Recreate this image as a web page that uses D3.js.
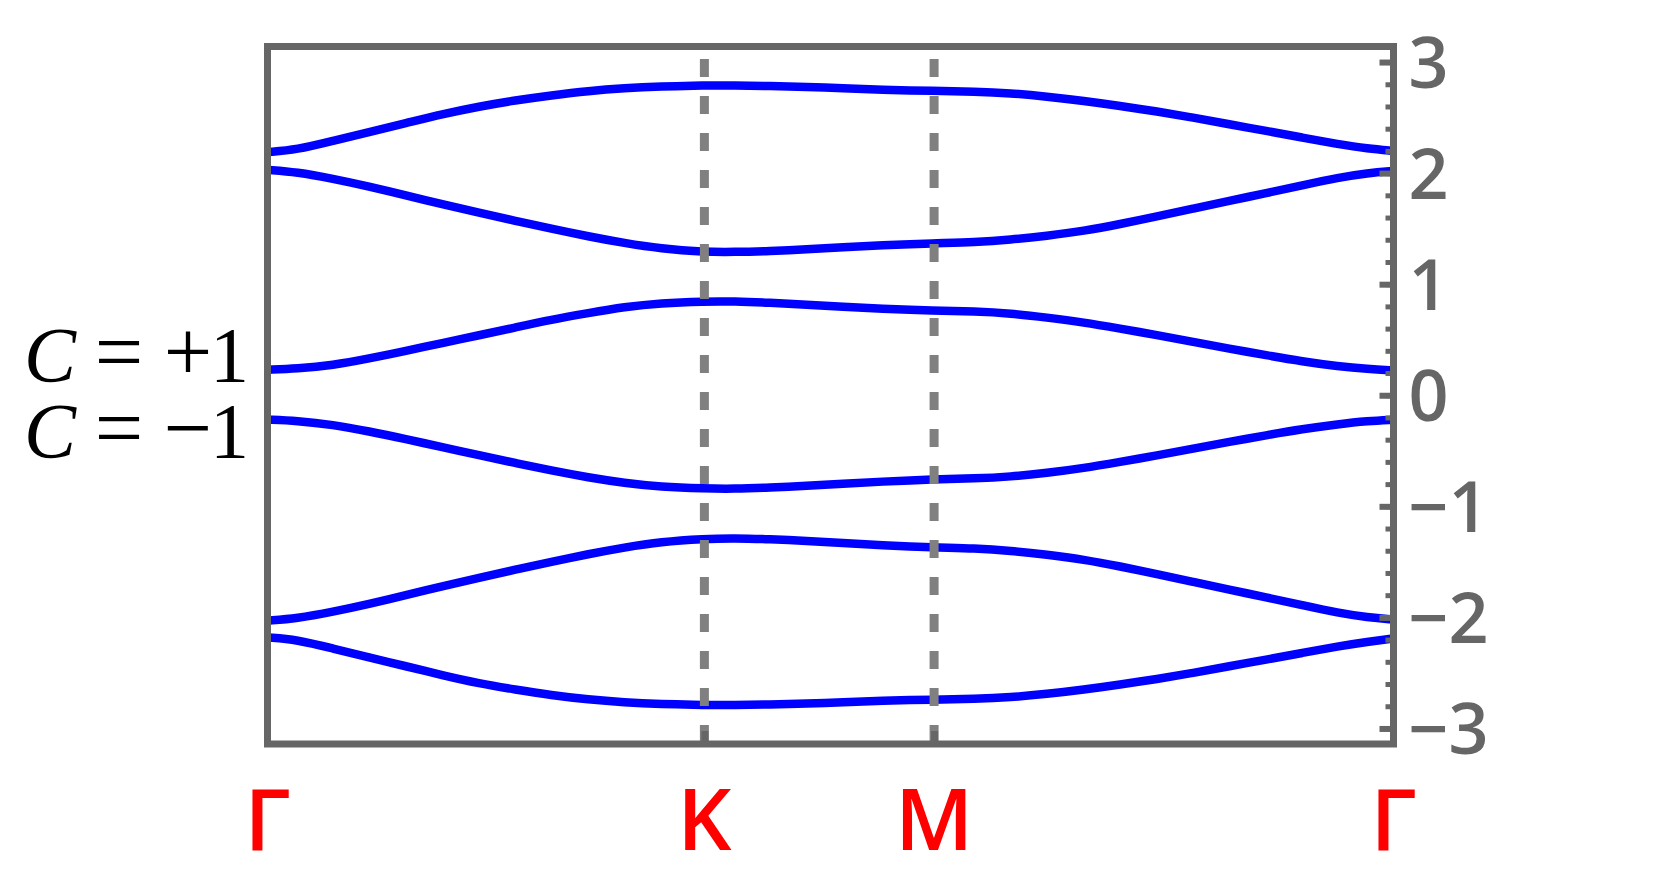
<!DOCTYPE html>
<html>
<head>
<meta charset="utf-8">
<script src="https://cdn.jsdelivr.net/npm/d3@7"></script>
<style>
  body { margin: 0; background: #fff; }
</style>
</head>
<body>
<script>
"use strict";

// k-path positions (0 = Γ, 1 = Γ)
const kpath = [0, 0.026, 0.058, 0.090, 0.123, 0.155, 0.188, 0.220, 0.252, 0.285, 0.317, 0.349,
    0.388, 0.414, 0.446, 0.479, 0.511, 0.544, 0.592, 0.628, 0.660, 0.692, 0.725, 0.757,
    0.790, 0.822, 0.854, 0.887, 0.919, 0.951, 0.977, 1.0]

const band1 = [2.19, 2.21, 2.29, 2.37, 2.45, 2.53, 2.60, 2.655, 2.70, 2.74, 2.765, 2.78,
    2.79, 2.79, 2.785, 2.775, 2.765, 2.75, 2.74, 2.735, 2.72, 2.69, 2.65, 2.605,
    2.555, 2.50, 2.44, 2.38, 2.32, 2.26, 2.22, 2.20]
const band2 = [2.03, 2.01, 1.95, 1.88, 1.80, 1.72, 1.645, 1.57, 1.50, 1.43, 1.37, 1.32,
    1.29, 1.29, 1.298, 1.314, 1.332, 1.35, 1.368, 1.377, 1.40, 1.435, 1.48, 1.54,
    1.61, 1.68, 1.75, 1.82, 1.89, 1.96, 2.00, 2.02]
const band3 = [0.23, 0.24, 0.27, 0.33, 0.40, 0.47, 0.54, 0.61, 0.68, 0.74, 0.795, 0.83,
    0.845, 0.845, 0.833, 0.815, 0.797, 0.779, 0.761, 0.755, 0.737, 0.70, 0.656, 0.60,
    0.542, 0.48, 0.42, 0.36, 0.305, 0.26, 0.236, 0.224]
const band4 = [-0.22, -0.23, -0.265, -0.325, -0.395, -0.467, -0.54, -0.61, -0.678, -0.74, -0.79, -0.825,
    -0.84, -0.843, -0.832, -0.815, -0.797, -0.778, -0.757, -0.75, -0.733, -0.70, -0.656, -0.60,
    -0.542, -0.48, -0.42, -0.36, -0.305, -0.26, -0.232, -0.22]
const band5 = [-2.03, -2.01, -1.95, -1.88, -1.80, -1.72, -1.645, -1.57, -1.50, -1.43, -1.37, -1.32,
    -1.293, -1.287, -1.296, -1.312, -1.33, -1.35, -1.37, -1.378, -1.40, -1.435, -1.48, -1.54,
    -1.61, -1.68, -1.75, -1.82, -1.89, -1.96, -2.00, -2.02]
const band6 = [-2.18, -2.20, -2.28, -2.36, -2.44, -2.52, -2.595, -2.65, -2.70, -2.74, -2.765, -2.78,
    -2.79, -2.79, -2.785, -2.775, -2.765, -2.75, -2.74, -2.735, -2.72, -2.69, -2.65, -2.605,
    -2.555, -2.50, -2.44, -2.38, -2.32, -2.26, -2.22, -2.19]

// high symmetry points
const symLabels = ["Γ", "K", "M", "Γ"]
const symPositions = [0, 0.388, 0.592, 1]

// energy ticks
const majorTicks = [-3, -2, -1, 0, 1, 2, 3]
const minorTicks = d3.range(-30, 31, 2).map((d) => d / 10)

const chernLabels = [["C", "=", "+", "1"], ["C", "=", "−", "1"]]

;(function(){
    const measurements = {
        width: 1661,
        height: 873,
        left: 267.5,
        right: 1393.5,
        top: 46.5,
        bottom: 744
    }

    const svg = d3.select("body").append("svg")
        .attr("width", measurements.width)
        .attr("height", measurements.height)

    const scaleX = d3.scaleLinear()
        .domain([0, 1])
        .range([measurements.left, measurements.right])
    const scaleY = d3.scaleLinear()
        .domain([-3.14, 3.14])
        .range([measurements.bottom, measurements.top])

    drawBands(svg, scaleX, scaleY)
    drawGuides(svg, scaleX, scaleY)
    drawAxes(svg, scaleX, scaleY)
    drawChern(svg, scaleY)

    function drawBands(svg, scaleX, scaleY) {
        const bands = [band1, band2, band3, band4, band5, band6]
        const line = d3.line()
            .x((d, i) => scaleX(kpath[i]))
            .y((d) => scaleY(d))
            .curve(d3.curveBasis)

        svg.append("g").selectAll("path")
            .data(bands)
            .enter()
            .append("path")
                .attr("d", line)
                .attr("fill", "none")
                .attr("stroke", "#0000ff")
                .attr("stroke-width", 8.5)
    }

    function drawGuides(svg, scaleX, scaleY) {
        // dashed verticals at K and M, drawn over the bands
        svg.append("g").selectAll("line")
            .data(symPositions.slice(1, 3))
            .enter()
            .append("line")
                .attr("x1", (d) => scaleX(d))
                .attr("x2", (d) => scaleX(d))
                .attr("y1", measurements.top)
                .attr("y2", measurements.bottom)
                .attr("stroke", "#808080")
                .attr("stroke-width", 9)
                .attr("stroke-dasharray", "18,19")
                .attr("stroke-dashoffset", 24.5)
    }

    function drawAxes(svg, scaleX, scaleY) {
        const right = measurements.right

        // minor ticks (inward)
        svg.append("g")
            .attr("transform", "translate(" + right + ",0)")
            .call(d3.axisLeft(scaleY).tickValues(minorTicks).tickSize(8).tickFormat(""))
            .call((g) => g.select(".domain").remove())
            .call((g) => g.selectAll("line").attr("stroke", "#666").attr("stroke-width", 5))

        // major ticks (inward)
        svg.append("g")
            .attr("transform", "translate(" + right + ",0)")
            .call(d3.axisLeft(scaleY).tickValues(majorTicks).tickSize(14).tickFormat(""))
            .call((g) => g.select(".domain").remove())
            .call((g) => g.selectAll("line").attr("stroke", "#666").attr("stroke-width", 6))

        // labels on the right
        svg.append("g")
            .attr("transform", "translate(" + right + ",0)")
            .call(d3.axisRight(scaleY).tickValues(majorTicks).tickSize(0).tickPadding(15)
                .tickFormat(d3.format("d")))
            .call((g) => g.select(".domain").remove())
            .call((g) => g.selectAll("text")
                .attr("fill", "#666")
                .attr("dy", "0.36em")
                .style("font-family", "'Open Sans', sans-serif")
                .style("font-weight", 600)
                .style("font-size", "70px"))

        // small ticks at K and M on the bottom edge
        svg.append("g")
            .attr("transform", "translate(0," + measurements.bottom + ")")
            .call(d3.axisTop(scaleX).tickValues(symPositions.slice(1, 3)).tickSize(13).tickFormat(""))
            .call((g) => g.select(".domain").remove())
            .call((g) => g.selectAll("line").attr("stroke", "#666").attr("stroke-width", 7))

        // high symmetry labels
        svg.append("g").selectAll("text")
            .data(symLabels)
            .enter()
            .append("text")
                .attr("x", (d, i) => scaleX(symPositions[i]))
                .attr("y", 850)
                .attr("text-anchor", "middle")
                .attr("fill", "#ff0000")
                .style("font-family", "'Open Sans', sans-serif")
                .style("font-weight", 600)
                .style("font-size", "85px")
                .text((d) => d)

        // frame
        svg.append("rect")
            .attr("x", measurements.left)
            .attr("y", measurements.top)
            .attr("width", measurements.right - measurements.left)
            .attr("height", measurements.bottom - measurements.top)
            .attr("fill", "none")
            .attr("stroke", "#666")
            .attr("stroke-width", 7)
    }

    function drawChern(svg, scaleY) {
        // glyph centres for C, =, sign, 1
        const cx = [50, 119, 188, 229.5]
        const rows = svg.append("g").selectAll("text.row")
            .data(chernLabels)
            .enter()
            .append("text")
                .attr("class", "row")
                .attr("y", (d, i) => i === 0 ? 381 : 457)
                .attr("text-anchor", "middle")
                .attr("fill", "#000")
                .style("font-family", "'Liberation Serif', 'DejaVu Serif', serif")
                .style("font-size", "78px")

        rows.selectAll("tspan")
            .data((d) => d)
            .enter()
            .append("tspan")
                .attr("x", (d, i) => cx[i])
                .style("font-style", (d, i) => i === 0 ? "italic" : "normal")
                .style("font-size", (d, i) => i === 1 || i === 2 ? "86px" : null)
                .text((d) => d)
    }
})()
</script>
</body>
</html>
